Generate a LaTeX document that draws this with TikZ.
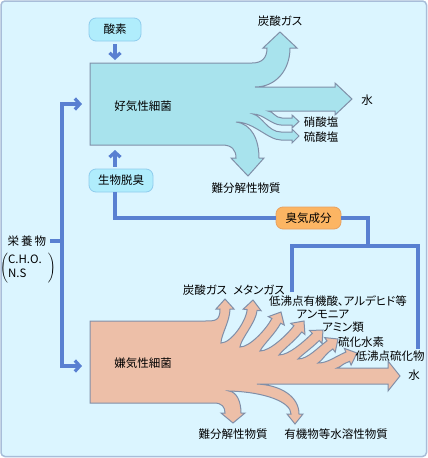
\documentclass[tikz,border=0pt]{standalone}
\usepackage{fontspec}
\setmainfont{Noto Sans CJK JP}[RawFeature={+palt}]
\usepackage{tikz}
\usetikzlibrary{arrows,arrows.meta,calc,positioning}
\definecolor{dcfufe}{rgb}{0.86,0.96,1}
\definecolor{aybcdy}{rgb}{0.66,0.74,0.85}
\definecolor{ayeuec}{rgb}{0.66,0.89,0.93}
\definecolor{eccqay}{rgb}{0.93,0.75,0.66}
\definecolor{yqzqay}{rgb}{0.5,0.56,0.66}
\definecolor{vyyqdq}{rgb}{0.35,0.5,0.82}
\definecolor{bqecfc}{rgb}{0.69,0.93,0.99}
\definecolor{zqccec}{rgb}{0.56,0.8,0.93}
\definecolor{fcbuwu}{rgb}{0.99,0.71,0.39}
\definecolor{eyaqwq}{rgb}{0.91,0.63,0.38}

\begin{document}
\begin{tikzpicture}[line cap=round,line join=round,>={Straight Barb[length=5pt,width=11pt]},x=1pt,y=-1pt,
  every node/.style={font=\fontsize{11.5}{13}\selectfont},
  pill/.style={draw=zqccec,fill=bqecfc,rounded corners=7pt,minimum height=23pt,inner sep=0pt,line width=0.8pt},
  odor/.style={draw=eyaqwq,fill=fcbuwu,rounded corners=7pt,minimum height=22pt,inner sep=0pt,line width=0.8pt},
  conn/.style={color=vyyqdq,line width=3.2pt,line cap=butt,line join=miter},
  koki/.style={draw=yqzqay,fill=ayeuec,line width=1pt,line join=miter},
  kenki/.style={draw=yqzqay,fill=eccqay,line width=1pt,line join=miter}]
		\useasboundingbox (0,0) rectangle (428,458);
		\draw [color=aybcdy,fill=dcfufe,line width=1.5pt,rounded corners=4pt] (1,1) rectangle (426.5,456.5);
		% aerobic flow
		\draw [koki] (90,63) -- (252,63) .. controls (262,63) and (267,58) .. (267,48) -- (263,48) -- (280,32) -- (297,48) -- (290,48) .. controls (290,70) and (276,87) .. (255,87) -- (335,87) -- (335,83) -- (352,99) -- (335,115) -- (335,111) -- (268,111) .. controls (273,111) and (275,118) .. (282,118) -- (292,118) -- (292,115) -- (299,121.5) -- (292,128) -- (292,125) -- (281,125) .. controls (272,125) and (263,114) .. (253,114) .. controls (262,116) and (268,132) .. (281,132) -- (292,132) -- (292,129) -- (299,136) -- (292,143) -- (292,140) -- (281,140) .. controls (268,140) and (254,122) .. (236,122) .. controls (252,124) and (259,140) .. (259,158) -- (264,158) -- (248,176) -- (231,158) -- (236,158) .. controls (236,150) and (232,145) .. (222,145) -- (90,145) -- cycle;
		% anaerobic flow
		\coordinate (p0) at (205,321);
		\foreach \i/\tx/\ty/\a/\px/\py in {1/225/299/90/221/343,2/253/300/85/240/347,3/281/312/62/260/351,4/304/321/52/279/355,5/323/330/44/298/359,6/338/339/36/318/363,7/357/353/22/337/368}{
			\coordinate (t\i) at (\tx,\ty);
			\coordinate (p\i) at (\px,\py);
			\coordinate (b\i) at ($(t\i)+({180-\a}:10)$);
			\coordinate (lb\i) at ($(b\i)+({-\a-90}:9)$);
			\coordinate (rb\i) at ($(b\i)+({90-\a}:9)$);
			\coordinate (ls\i) at ($(b\i)+({-\a-90}:5)$);
			\coordinate (rs\i) at ($(b\i)+({90-\a}:5)$);
			\coordinate (lc\i) at ($(ls\i)+({180-\a}:12)$);
			\coordinate (rc\i) at ($(rs\i)+({180-\a}:12)$);
			\coordinate (pc\i) at ($(p\i)+({-\a}:8)$);
		}
		\draw [kenki] (90,321) -- (p0)
			\foreach \i/\j in {1/0,2/1,3/2,4/3,5/4,6/5,7/6}{
				.. controls ($(p\j)+(10,0)$) and (lc\i) .. (ls\i) -- (lb\i) -- (t\i) -- (rb\i) -- (rs\i) .. controls (rc\i) and (pc\i) .. (p\i)
			}
			-- (388,368) -- (388,361) -- (400,376) -- (388,391) -- (388,384) -- (257,384) .. controls (280,385) and (299,396) .. (299,414) -- (303,414) -- (295,424) -- (287,414) -- (291,414) .. controls (291,402) and (265,392) .. (229,391) .. controls (237,392) and (241,402) .. (241,413) -- (245,413) -- (233,423) -- (221,413) -- (225,413) .. controls (225,407) and (222,403) .. (214,403) -- (90,403) -- cycle;
		% nodes
		\node [pill,minimum width=52pt] (sanso) at (115,29.5) {酸素};
		\node [pill,minimum width=64pt] (dasshu) at (121,180.5) {生物脱臭};
		\node [odor,minimum width=65pt] (shuki) at (308.5,218) {臭気成分};
		\node (eiyo) at (27,241) {栄\hspace{2pt}養\hspace{2pt}物};
		\node (gensho) at (28,268) {$\left(\begin{tabular}{@{}l@{}}C.H.O.\\[1pt]N.S\end{tabular}\hspace{6pt}\right)$};
		\node (koki) at (143,106) {好気性細菌};
		\node (kenki) at (143,363) {嫌気性細菌};
		\coordinate (kokiTop) at (115,60);
		\coordinate (kokiBot) at (115,150);
		\coordinate (kokiL) at (82,104);
		\coordinate (kenkiL) at (82,366);
		\coordinate (bunki) at (368,246);
		\coordinate (bunki2) at (62,241);
		\coordinate (gasL) at (292,292);
		\coordinate (gasR) at (418,349);
		% connectors
		\draw [conn,->] (sanso.south) ++(0,3) -- (kokiTop);
		\draw [conn,->] ($(dasshu.north -| kokiBot)+(0,-2)$) -- (kokiBot);
		\draw [conn] (dasshu.south -| kokiBot) |- (shuki.west);
		\draw [conn] (shuki.east) -| (bunki);
		\draw [conn] (gasL) |- (bunki);
		\draw [conn] (bunki) -| (gasR);
		\draw [conn] (eiyo.east) -- (bunki2);
		\draw [conn,->] (bunki2) |- (kokiL);
		\draw [conn,->] (bunki2) |- (kenkiL);
		% labels
		\node (co2a) at (280,21) {炭酸ガス};
		\node (h2oa) at (367,100) {水};
		\node (no3) at (321,122) {硝酸塩};
		\node (so4) at (321,137) {硫酸塩};
		\node (nanba) at (246,188) {難分解性物質};
		\node (co2b) at (205,290) {炭酸ガス};
		\node (ch4) at (259,290) {メタンガス};
		\node (yuki) at (338,301) {低沸点有機酸、アルデヒド等};
		\node (nh3) at (323,314) {アンモニア};
		\node (amin) at (343,327) {アミン類};
		\node (h2s) at (361,342) {硫化水素};
		\node (ryuka) at (390,356) {低沸点硫化物};
		\node (h2ob) at (414,375) {水};
		\node (nanbb) at (233,434) {難分解性物質};
		\node (suiyo) at (336,434) {有機物等水溶性物質};
\end{tikzpicture}
\end{document}
